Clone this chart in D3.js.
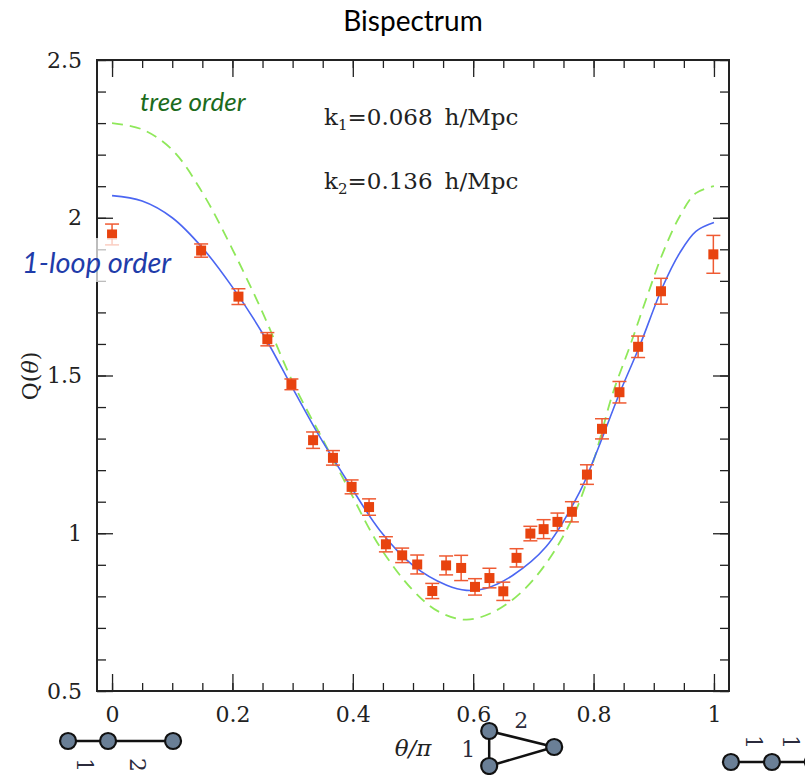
<!DOCTYPE html>
<html>
<head>
<meta charset="utf-8">
<script src="https://cdn.jsdelivr.net/npm/d3@7"></script>
<style>
  body { margin: 0; background: #fff; }
  svg { display: block; }
</style>
</head>
<body>
<div id="viz"></div>
<script>
// measured points (theta/pi, Q, error)
const thetaObs = [0, 0.148, 0.21, 0.258, 0.298, 0.334, 0.367, 0.398, 0.427, 0.455, 0.482, 0.507, 0.532, 0.555, 0.580,
    0.603, 0.627, 0.650, 0.672, 0.695, 0.717, 0.740, 0.764, 0.789, 0.814, 0.843, 0.874, 0.912, 0.999];
const qObs = [1.947, 1.896, 1.750, 1.615, 1.472, 1.295, 1.239, 1.147, 1.083, 0.965, 0.930, 0.901, 0.817, 0.898, 0.890,
    0.830, 0.858, 0.816, 0.922, 0.999, 1.013, 1.036, 1.068, 1.186, 1.331, 1.447, 1.591, 1.767, 1.884];
const qErr = [0.033, 0.021, 0.025, 0.021, 0.017, 0.026, 0.023, 0.022, 0.026, 0.024, 0.023, 0.030, 0.024, 0.030, 0.040,
    0.026, 0.031, 0.029, 0.029, 0.023, 0.030, 0.028, 0.032, 0.031, 0.032, 0.034, 0.034, 0.041, 0.060];

// 1-loop curve
const loopTheta = [0, 0.05, 0.1, 0.15, 0.2, 0.25, 0.3, 0.345, 0.39, 0.445, 0.5, 0.556, 0.589, 0.622,
    0.666, 0.721, 0.777, 0.802, 0.843, 0.876, 0.915, 0.943, 0.970, 1.0];
const loopQ = [2.07, 2.053, 2.0, 1.905, 1.78, 1.634, 1.46, 1.306, 1.168, 1.009, 0.898, 0.835, 0.819, 0.826,
    0.867, 0.957, 1.131, 1.242, 1.443, 1.591, 1.782, 1.888, 1.957, 1.985];

// tree-level curve
const treeTheta = [0, 0.05, 0.1, 0.15, 0.2, 0.25, 0.3, 0.35, 0.39, 0.445, 0.5, 0.544, 0.589, 0.633, 0.677,
    0.721, 0.766, 0.8, 0.832, 0.860, 0.887, 0.915, 0.943, 0.970, 1.0];
const treeQ = [2.30, 2.28, 2.215, 2.08, 1.90, 1.70, 1.48, 1.297, 1.152, 0.957, 0.819, 0.75, 0.726, 0.75, 0.808,
    0.904, 1.052, 1.23, 1.444, 1.591, 1.740, 1.888, 2.004, 2.078, 2.10];

const xMajor = [0, 0.2, 0.4, 0.6, 0.8, 1];
const xMinor = d3.range(0, 1.0001, 0.05);
const yMajor = [0.5, 1, 1.5, 2, 2.5];
const yMinor = d3.range(0.5, 2.5001, 0.1);

const width = 805;
const height = 775;

const svg = d3.select("#viz").append("svg")
    .attr("width", width)
    .attr("height", height);

const x = d3.scaleLinear().domain([-0.025, 1.025]).range([97, 729]);
const y = d3.scaleLinear().domain([0.5, 2.5]).range([691, 60]);

const serif = "DejaVu Serif";
const sans = "Lato";

// title
svg.append("text")
    .attr("x", 413).attr("y", 31)
    .attr("text-anchor", "middle")
    .attr("font-family", sans)
    .attr("font-size", 28)
    .text("Bispectrum");

// axes with inward ticks
function addAxis(axisFn, scale, ticks, size, transform, labels) {
    const g = svg.append("g")
        .attr("transform", transform)
        .call(axisFn(scale).tickValues(ticks).tickSize(-size).tickPadding(15)
            .tickFormat(labels ? d3.format("") : ""));
    g.select(".domain").remove();
    g.selectAll("line").attr("stroke", "#222").attr("stroke-width", 1.3);
    g.selectAll("text")
        .attr("font-family", serif)
        .attr("font-size", 22)
        .attr("fill", "#222");
    return g;
}

addAxis(d3.axisBottom, x, xMinor, 8, "translate(0,691)", false);
addAxis(d3.axisBottom, x, xMajor, 17, "translate(0,691)", true);
addAxis(d3.axisTop, x, xMinor, 8, "translate(0,60)", false);
addAxis(d3.axisTop, x, xMajor, 17, "translate(0,60)", false);
addAxis(d3.axisLeft, y, yMinor, 9, "translate(97,0)", false);
addAxis(d3.axisLeft, y, yMajor, 16, "translate(97,0)", true);
addAxis(d3.axisRight, y, yMinor, 9, "translate(729,0)", false);
addAxis(d3.axisRight, y, yMajor, 16, "translate(729,0)", false);

svg.append("rect")
    .attr("x", x.range()[0]).attr("y", y.range()[1])
    .attr("width", x.range()[1] - x.range()[0])
    .attr("height", y.range()[0] - y.range()[1])
    .attr("fill", "none")
    .attr("stroke", "#222")
    .attr("stroke-width", 2);

// curves
const line = d3.line()
    .x(d => x(d[0]))
    .y(d => y(d[1]))
    .curve(d3.curveCatmullRom);

svg.append("path")
    .attr("d", line(d3.zip(treeTheta, treeQ)))
    .attr("fill", "none")
    .attr("stroke", "#8fe85a")
    .attr("stroke-width", 1.8)
    .attr("stroke-dasharray", "11,7");

svg.append("path")
    .attr("d", line(d3.zip(loopTheta, loopQ)))
    .attr("fill", "none")
    .attr("stroke", "#4b66f2")
    .attr("stroke-width", 1.6);

// data with error bars
const pts = thetaObs.map((t, i) => ({ t: t, q: qObs[i], e: qErr[i] }));
const pg = svg.append("g").selectAll("g")
    .data(pts)
    .enter().append("g");

pg.append("line")
    .attr("x1", d => x(d.t)).attr("x2", d => x(d.t))
    .attr("y1", d => y(d.q - d.e)).attr("y2", d => y(d.q + d.e))
    .attr("stroke", "#ef5a32").attr("stroke-width", 1.5);
[-1, 1].forEach(s => {
    pg.append("line")
        .attr("x1", d => x(d.t) - 7).attr("x2", d => x(d.t) + 7)
        .attr("y1", d => y(d.q + s * d.e)).attr("y2", d => y(d.q + s * d.e))
        .attr("stroke", "#ef5a32").attr("stroke-width", 1.5);
});
pg.append("rect")
    .attr("x", d => x(d.t) - 5).attr("y", d => y(d.q) - 5)
    .attr("width", 10).attr("height", 10)
    .attr("fill", "#e8430f");

// annotations
svg.append("text")
    .attr("x", 140).attr("y", 111)
    .attr("font-family", sans).attr("font-style", "italic")
    .attr("font-size", 26)
    .attr("fill", "#1c6b1c")
    .text("tree order");

svg.append("rect")
    .attr("x", 18).attr("y", 238)
    .attr("width", 156).attr("height", 44)
    .attr("fill", "#fff").attr("opacity", 0.7);
svg.append("text")
    .attr("x", 22).attr("y", 273)
    .attr("font-family", sans).attr("font-style", "italic")
    .attr("font-size", 29)
    .attr("fill", "#1f3caa")
    .text("1-loop order");

function kLabel(yy, sub, val) {
    const t = svg.append("text")
        .attr("x", 324).attr("y", yy)
        .attr("font-family", serif)
        .attr("font-size", 23)
        .attr("fill", "#222");
    t.append("tspan").text("k");
    t.append("tspan").attr("font-size", 15).attr("dy", 5).text(sub);
    t.append("tspan").attr("dy", -5).text("=" + val);
    t.append("tspan").attr("dx", 12).text("h/Mpc");
}
kLabel(125, "1", "0.068");
kLabel(189, "2", "0.136");

// axis titles
const qLab = svg.append("text")
    .attr("transform", "translate(38,376) rotate(-90)")
    .attr("text-anchor", "middle")
    .attr("font-family", serif)
    .attr("font-size", 22)
    .attr("fill", "#222");
qLab.append("tspan").text("Q(");
qLab.append("tspan").attr("font-style", "italic").text("θ");
qLab.append("tspan").text(")");

svg.append("text")
    .attr("x", 413).attr("y", 756)
    .attr("text-anchor", "middle")
    .attr("font-family", serif)
    .attr("font-style", "italic")
    .attr("font-size", 23)
    .attr("fill", "#222")
    .text("θ/π");

// triangle configuration sketches under the axis
function sketch(anchor, nodes, edges, labels) {
    const cx = x(anchor);
    const g = svg.append("g");
    edges.forEach(e => {
        g.append("line")
            .attr("x1", cx + nodes[e[0]][0]).attr("y1", nodes[e[0]][1])
            .attr("x2", cx + nodes[e[1]][0]).attr("y2", nodes[e[1]][1])
            .attr("stroke", "#111").attr("stroke-width", 2.5);
    });
    nodes.forEach(n => {
        g.append("circle")
            .attr("cx", cx + n[0]).attr("cy", n[1]).attr("r", 8)
            .attr("fill", "#6a7f96").attr("stroke", "#111").attr("stroke-width", 2.2);
    });
    labels.forEach(l => {
        g.append("text")
            .attr("transform", `translate(${cx + l[0]},${l[1]}) rotate(${l[3]})`)
            .attr("text-anchor", "middle")
            .attr("dy", "0.35em")
            .attr("font-family", serif)
            .attr("font-size", 22)
            .attr("fill", "#2b2b3c")
            .text(l[2]);
    });
}

sketch(0, [[-44, 741], [-4, 741], [61, 741]], [[0, 1], [1, 2]],
    [[-27, 765, "1", 90], [26, 765, "2", 90]]);
sketch(0.6, [[16, 731], [16, 766], [81, 747]], [[0, 1], [0, 2], [1, 2]],
    [[-5, 749, "1", 0], [48, 720, "2", 0]]);
sketch(1, [[17, 762], [58, 762], [99, 762]], [[0, 1], [1, 2]],
    [[40, 742, "1", 90], [77, 742, "1", 90]]);
</script>
</body>
</html>
